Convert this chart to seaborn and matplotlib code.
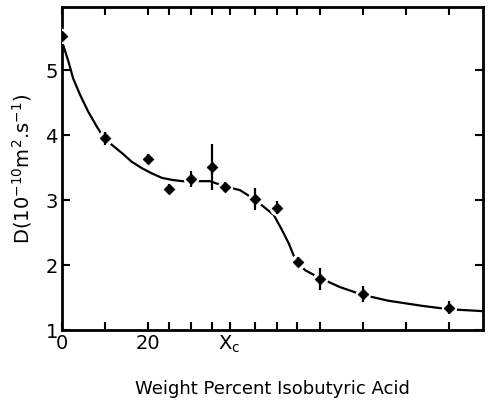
import matplotlib
matplotlib.use("Agg")
import matplotlib.pyplot as plt
import seaborn as sns
import pandas as pd

# measured points (weight % isobutyric acid, D in 1e-10 m^2/s)
wt_pct = [0, 10, 20, 25, 30, 35, 38, 45, 50, 55, 60, 70, 90]
diff_D = [5.52, 3.95, 3.63, 3.17, 3.32, 3.51, 3.20, 3.02, 2.88, 2.05, 1.78, 1.55, 1.34]
err_D = [0.07, 0.10, 0.08, 0.07, 0.12, 0.35, 0.07, 0.17, 0.10, 0.08, 0.17, 0.12, 0.10]

# hand-drawn guide curve
curve_x = [0.3, 1.5, 2.6, 4.2, 6.1, 8.1, 9.6, 11.6, 14, 16.2, 18.6, 20.9, 23.3,
           25.6, 28, 30, 34.4, 38, 41.5, 45, 46.5, 49.3, 51.2, 52.8, 53.9, 54.7,
           56.6, 59.4, 64.7, 70, 76, 84, 90, 98]
curve_y = [5.38, 5.13, 4.87, 4.62, 4.36, 4.13, 3.97, 3.85, 3.72, 3.59, 3.49, 3.41,
           3.34, 3.31, 3.29, 3.29, 3.29, 3.21, 3.15, 3.0, 2.92, 2.77, 2.54, 2.33,
           2.15, 2.05, 1.92, 1.82, 1.66, 1.54, 1.45, 1.37, 1.32, 1.29]

x_ticks = [0, 10, 20, 25, 30, 35, 39, 45, 50, 54.7, 60, 70, 80, 90]
x_ticklabels = ["0", "", "20", "", "", "", "X$_\\mathrm{c}$", "", "", "", "", "", "", ""]
y_ticks = [1, 2, 3, 4, 5]

sns.set_style("ticks")
plt.rcParams["font.family"] = ["DejaVu Sans"]

fig = plt.figure(figsize=(4.88, 4.09), dpi=100)
ax = fig.add_axes([62 / 488, 1 - 330 / 409, (483 - 62) / 488, (330 - 7) / 409])

curve = pd.DataFrame({"x": curve_x, "y": curve_y})
pts = pd.DataFrame({"x": wt_pct, "y": diff_D, "e": err_D})

sns.lineplot(data=curve, x="x", y="y", ax=ax, color="black", lw=1.6, sort=False, zorder=2)
# white halo to give gaps in curve around points
sns.scatterplot(data=pts, x="x", y="y", ax=ax, color="white", s=120, marker="o",
                edgecolor="white", linewidth=0, zorder=3)
ax.errorbar(pts["x"], pts["y"], yerr=pts["e"], fmt="none", ecolor="black",
            elinewidth=1.6, capsize=0, zorder=4)
sns.scatterplot(data=pts, x="x", y="y", ax=ax, color="black", s=30, marker="D",
                edgecolor="black", linewidth=0.5, zorder=5)

ax.set_xlim(0, 98)
ax.set_ylim(1, 5.97)
ax.set_xticks(x_ticks)
ax.set_xticklabels(x_ticklabels, fontsize=14, color="black")
ax.set_yticks(y_ticks)
ax.set_yticklabels([str(v) for v in y_ticks], fontsize=14, color="black")
ax.tick_params(direction="in", length=6, width=1.5, top=True, right=True, pad=3,
               labelright=False, labeltop=False, colors="black")
for s in ax.spines.values():
    s.set_linewidth(2)
    s.set_color("black")

ax.set_xlabel("Weight Percent Isobutyric Acid", fontsize=13, labelpad=18, color="black")
ax.set_ylabel("D(10$^{-10}$m$^2$.s$^{-1}$)", fontsize=14, labelpad=8, color="black")

fig.savefig("out.png", dpi=100)
